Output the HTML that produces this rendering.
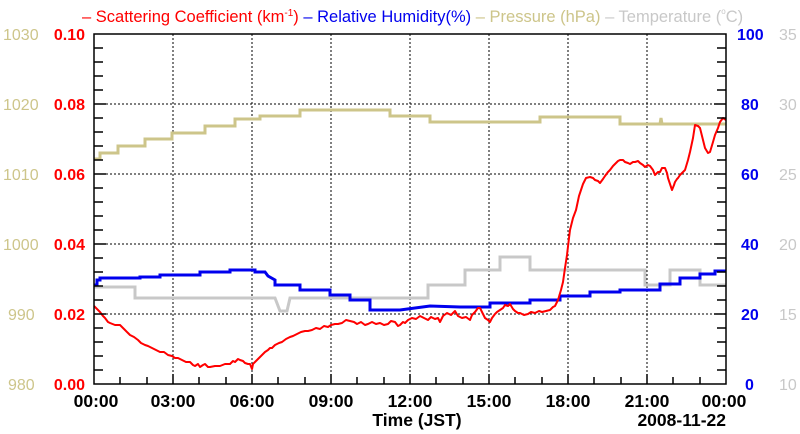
<!DOCTYPE html>
<html><head><meta charset="utf-8"><style>
body{margin:0;background:#fff;}
svg{display:block;font-family:"Liberation Sans",Arial,sans-serif;}
</style></head><body>
<svg width="800" height="434" viewBox="0 0 800 434" xmlns="http://www.w3.org/2000/svg">
<rect width="800" height="434" fill="#fff"/>
<g stroke="#000" stroke-width="1" stroke-dasharray="2,2">
<line x1="173" y1="34" x2="173" y2="384"/><line x1="252" y1="34" x2="252" y2="384"/>
<line x1="331" y1="34" x2="331" y2="384"/><line x1="410" y1="34" x2="410" y2="384"/>
<line x1="489" y1="34" x2="489" y2="384"/><line x1="568" y1="34" x2="568" y2="384"/>
<line x1="647" y1="34" x2="647" y2="384"/>
<line x1="94" y1="104" x2="726" y2="104"/><line x1="94" y1="174" x2="726" y2="174"/>
<line x1="94" y1="244" x2="726" y2="244"/><line x1="94" y1="314" x2="726" y2="314"/>
</g>
<polyline fill="none" stroke="#c8c8c8" stroke-width="3" points="94,287 135,287 135,298 275,298 280,311 287,311 290,298 428,298 428,285 465,285 465,270 500,270 500,257 530,257 530,270 645,270 645,285 670,285 670,270 700,270 700,285 726,285"/>
<polyline fill="none" stroke="#cdc58a" stroke-width="3" points="94,159 100,159 100,153 118,153 118,146 145,146 145,139 172,139 172,133 205,133 205,126 235,126 235,119 260,119 260,116 300,116 300,110 390,110 390,116 430,116 430,122 540,122 540,117 620,117 620,124 660,124 661,118 662,124 726,124"/>
<polyline fill="none" stroke="#0000ee" stroke-width="3" points="94,285 97,285 97,280 100,280 100,278 140,278 140,277 160,277 160,275 200,275 200,272 230,272 230,270 255,270 255,272 265,272 268,276 275,280 275,285 300,285 300,290 330,290 330,295 350,295 350,300 370,300 370,310 400,310 430,306 460,307 490,307 490,303 530,303 530,300 560,300 560,296 590,296 590,292 620,292 620,290 660,290 660,284 680,284 680,278 700,278 700,274 715,274 715,271 726,271"/>
<polyline fill="none" stroke="#ff0000" stroke-width="2" stroke-linejoin="round" points="94,306 97,309 100,312 103,316 105,318 108,322 110,323 115,325 120,325 123,328 125,330 128,333 130,335 134,337 138,340 141,343 145,345 148,346 152,348 156,350 160,352 164,352 168,355 172,356 175,358 178,358 182,360 186,362 190,362 193,365 195,366 198,364 200,367 203,365 205,364 208,367 210,367 215,366 220,366 225,364 230,364 233,361 235,362 238,359 240,360 243,361 245,363 248,364 250,364 252,369 253,364 255,362 258,359 260,357 263,354 265,352 268,350 270,348 272,348 275,345 279,343 282,342 286,339 290,337 293,336 297,334 301,332 305,331 308,331 312,330 316,328 320,329 324,326 328,327 331,325 335,324 338,324 342,323 346,320 350,321 354,322 357,324 361,322 365,325 368,324 372,322 376,324 380,323 384,325 388,324 391,321 395,322 398,326 400,325 403,322 405,323 408,320 412,318 416,319 420,316 424,318 428,320 431,317 435,319 438,318 440,322 443,316 447,313 451,315 455,311 458,316 462,318 466,317 470,320 472,315 475,312 478,308 480,308 483,314 485,318 488,320 490,322 492,318 495,314 497,312 500,310 503,308 505,305 508,306 510,304 513,309 515,311 518,313 520,313 524,315 528,314 531,312 535,313 539,311 542,312 546,311 550,310 553,307 555,306 558,300 561,290 563,282 565,268 567,255 569,238 570,230 573,218 576,210 579,196 583,184 586,178 590,177 593,178 595,180 598,181 600,183 603,179 605,176 608,172 610,170 613,166 615,164 618,161 620,160 623,160 625,162 628,163 630,164 633,162 635,162 638,161 640,163 643,165 645,167 648,165 650,166 653,170 655,175 657,173 658,172 660,172 662,168 663,168 665,168 667,173 668,178 670,184 672,190 674,185 675,182 677,179 678,178 680,175 682,173 685,170 688,160 690,152 693,138 695,125 698,126 700,128 703,140 705,148 708,153 710,152 713,142 715,135 718,128 720,122 723,118 726,120"/>
<rect x="94" y="34" width="632" height="350" fill="none" stroke="#000" stroke-width="1.5"/>
<g stroke="#000" stroke-width="1.5">
<path d="M94,48h9M94,62h9M94,76h9M94,90h9M94,104h12M94,118h9M94,132h9M94,146h9M94,160h9M94,174h12M94,188h9M94,202h9M94,216h9M94,230h9M94,244h12M94,258h9M94,272h9M94,286h9M94,300h9M94,314h12M94,328h9M94,342h9M94,356h9M94,370h9"/>
<path d="M726,48h-9M726,62h-9M726,76h-9M726,90h-9M726,104h-12M726,118h-9M726,132h-9M726,146h-9M726,160h-9M726,174h-12M726,188h-9M726,202h-9M726,216h-9M726,230h-9M726,244h-12M726,258h-9M726,272h-9M726,286h-9M726,300h-9M726,314h-12M726,328h-9M726,342h-9M726,356h-9M726,370h-9"/>
<path d="M120,384v-7M147,384v-7M173,384v-10M199,384v-7M226,384v-7M252,384v-10M278,384v-7M305,384v-7M331,384v-10M357,384v-7M384,384v-7M410,384v-10M436,384v-7M463,384v-7M489,384v-10M515,384v-7M542,384v-7M568,384v-10M594,384v-7M621,384v-7M647,384v-10M673,384v-7M700,384v-7"/>
</g>
<text y="22" font-size="16.5" x="82"><tspan fill="#ff0000">– Scattering Coefficient (km</tspan><tspan fill="#ff0000" font-size="10" dy="-6">-1</tspan><tspan fill="#ff0000" dy="6">)</tspan><tspan fill="#0000ee"> – Relative Humidity(%)</tspan><tspan fill="#cdc58a"> – Pressure (hPa)</tspan><tspan fill="#c8c8c8"> – Temperature (</tspan><tspan fill="#c8c8c8" font-size="8" dy="-8">o</tspan><tspan fill="#c8c8c8" dy="8">C)</tspan></text>
<g font-size="16" fill="#cdc58a">
<text x="3" y="40">1030</text><text x="3" y="110">1020</text><text x="3" y="180">1010</text><text x="3" y="250">1000</text><text x="8" y="320">990</text><text x="8" y="390">980</text>
</g>
<g font-size="16" font-weight="bold" fill="#ff0000" text-anchor="end">
<text x="85" y="40">0.10</text><text x="85" y="110">0.08</text><text x="85" y="180">0.06</text><text x="85" y="250">0.04</text><text x="85" y="320">0.02</text><text x="85" y="390">0.00</text>
</g>
<g font-size="16" font-weight="bold" fill="#0000ee">
<text x="737" y="40">100</text><text x="741" y="110">80</text><text x="741" y="180">60</text><text x="741" y="250">40</text><text x="741" y="320">20</text><text x="745" y="390">0</text>
</g>
<g font-size="16" fill="#c8c8c8">
<text x="779" y="40">35</text><text x="779" y="110">30</text><text x="779" y="180">25</text><text x="779" y="250">20</text><text x="779" y="320">15</text><text x="779" y="390">10</text>
</g>
<g font-size="17.5" font-weight="bold" fill="#000" text-anchor="middle">
<text x="96" y="407">00:00</text><text x="173" y="407">03:00</text><text x="252" y="407">06:00</text><text x="331" y="407">09:00</text><text x="410" y="407">12:00</text><text x="489" y="407">15:00</text><text x="568" y="407">18:00</text><text x="647" y="407">21:00</text><text x="724" y="407">00:00</text>
<text x="417" y="426">Time (JST)</text>
<text x="726" y="426" text-anchor="end">2008-11-22</text>
</g>
</svg>
</body></html>
